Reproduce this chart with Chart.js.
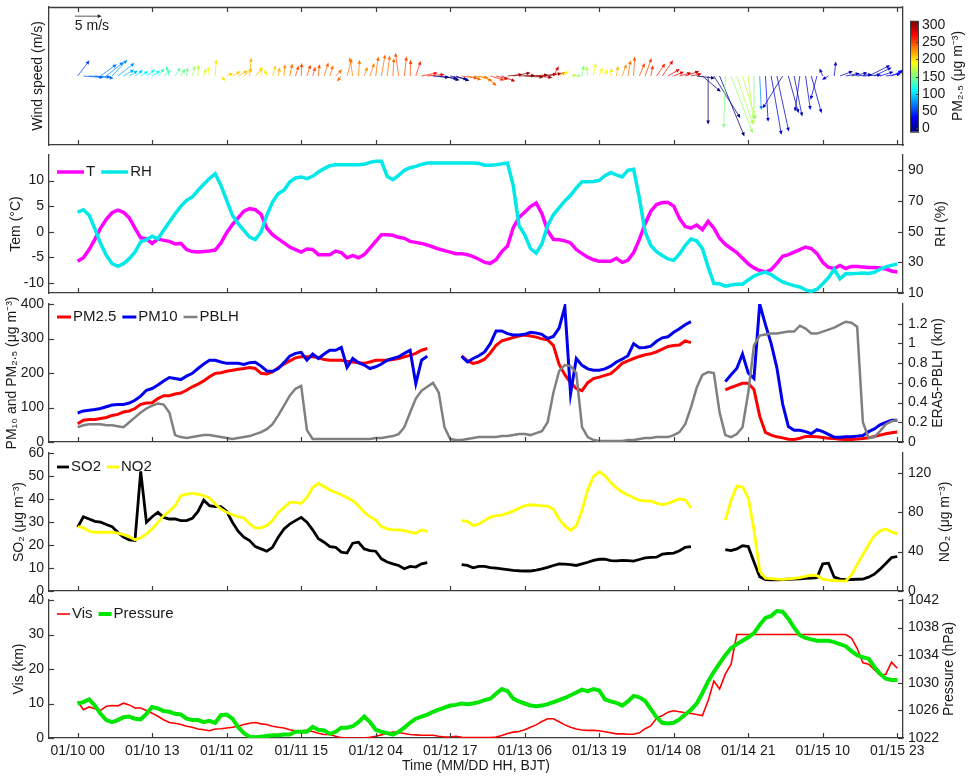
<!DOCTYPE html>
<html>
<head>
<meta charset="utf-8">
<script src="https://cdn.jsdelivr.net/npm/chart.js@4.4.0/dist/chart.umd.min.js"></script>
<style>
  body { margin: 0; background: #fff; width: 969px; height: 777px; overflow: hidden; position: relative; }
  canvas { position: absolute; left: 0; }
</style>
</head>
<body>
<canvas id="wind"></canvas>
<canvas id="met"></canvas>
<canvas id="pm"></canvas>
<canvas id="gas"></canvas>
<canvas id="vis"></canvas>
<script>
// hours since 01/10 00 BJT
const hours = [...Array(144).keys()];
const tickHours = [0, 13, 26, 39, 52, 65, 78, 91, 104, 117, 130, 143];
const tickLabels = ["01/10 00", "01/10 13", "01/11 02", "01/11 15", "01/12 04", "01/12 17",
  "01/13 06", "01/13 19", "01/14 08", "01/14 21", "01/15 10", "01/15 23"];

const temp = [-5.8,-5.1,-3.5,-1.5,0.7,2.4,3.7,4.2,3.8,2.7,0.7,-1.2,
  -1.4,-2.3,-1.4,-1.7,-1.9,-2.4,-2.3,-3.5,-3.9,-4.0,-3.9,-3.8,
  -3.6,-2.2,-0.2,1.4,2.7,4.0,4.5,4.3,3.4,0.7,-0.6,-1.4,
  -2.2,-3.0,-3.5,-4.0,-3.4,-3.5,-4.5,-4.5,-4.5,-3.8,-4.1,-5.1,
  -4.7,-5.1,-4.5,-3.2,-1.9,-0.6,-0.6,-0.7,-1.1,-1.3,-1.9,-2.1,
  -2.3,-2.6,-3.0,-3.4,-3.7,-4.0,-4.3,-4.3,-4.5,-4.9,-5.4,-6.0,
  -6.2,-5.5,-3.9,-2.8,0.8,2.8,3.8,4.9,5.6,3.5,0.2,-1.5,
  -1.6,-1.8,-2.2,-3.5,-4.3,-5.0,-5.5,-5.8,-5.8,-5.8,-5.2,-6.0,
  -5.6,-4.1,-1.5,1.5,4.0,5.3,5.7,5.7,5.0,2.6,1.0,0.7,
  1.3,0.4,2.0,0.7,-1.3,-2.5,-3.3,-4.1,-5.2,-6.3,-7.1,-7.6,
  -7.9,-7.4,-6.2,-4.8,-4.5,-4.0,-3.5,-3.0,-3.3,-4.3,-6.0,-7.0,
  -7.2,-6.6,-7.2,-6.8,-6.8,-6.9,-7.0,-7.0,-7.1,-7.3,-7.7,-7.9];

const rh = [62.8,64.3,60.7,52,42.2,34.6,29.1,27.4,29.1,32.4,36.7,43.3,
  44.8,47,45.4,50.9,56.3,61.7,66.5,70.4,72.6,77,80.9,84.6,
  87.8,80.2,70.4,60.7,55.2,50.9,46.5,44.8,49.8,60.7,69.3,74.8,
  77,82.4,85,85.7,84.6,86.1,88.9,91.1,93,93.7,93.7,93.7,
  93.7,93.7,93.9,95.2,95.9,95.9,86.1,83.9,86.7,90,91.7,92.6,
  93.9,94.8,94.8,94.8,94.8,94.8,94.8,94.8,94.8,94.8,94.5,93.3,
  93.3,93.6,94.2,94.8,80,54,48,39,36,42,54,61,
  65.5,70,73.7,78.5,82.6,82.6,82.7,83.5,86.5,88.5,87,85.7,
  90,90.7,72,50,41,37,34.5,32.2,31.3,35.5,41,45.2,
  44,39,27,16.1,16,14.5,15.2,15.7,15.7,18.5,21,22.6,
  23.6,22,19.5,17.2,16,14.8,13.9,12,11,12.5,16,20,
  25.5,19.3,22.5,22.5,22.8,23,22.8,23.5,25.5,27,28,29];

const pm25 = [53,63,65,65,68,71,77,80,87,90,97,109,
  113,114,126,134,134,139,142,150,160,168,177,189,
  199,201,205,208,211,213,216,213,199,197,203,215,
  226,235,244,247,247,247,245,239,237,237,237,234,
  232,230,228,232,237,237,237,239,242,247,251,257,
  266,271,null,null,null,null,null,250,235,228,232,240,
  258,280,293,298,303,307,310,307,304,299,296,280,
  225,195,172,155,149,172,184,188,193,198,212,228,
  235,242,248,253,256,261,269,277,280,281,293,288,
  null,null,null,null,null,151,158,164,170,170,152,75,
  28,20,15,12,8,7,11,16,16,15,13,11,
  10,8,7,7,9,10,12,16,20,24,27,29];

const pm10 = [84,90,92,94,97,102,107,109,109,113,121,133,
  150,155,165,177,187,184,181,191,199,213,226,237,
  237,232,228,228,228,225,230,231,220,206,205,213,
  230,249,257,260,237,255,242,255,266,266,274,216,
  242,230,223,213,218,226,237,242,247,257,266,169,
  237,249,null,null,null,null,null,248,232,242,250,261,
  285,322,322,314,310,310,312,318,316,312,300,306,
  330,392,140,242,222,212,208,208,212,220,232,240,
  250,285,273,274,278,292,302,305,318,328,340,349,
  null,null,null,null,null,175,195,213,255,200,184,400,
  340,285,215,110,45,34,34,30,24,36,30,22,
  14,14,15,15,17,19,30,38,50,57,63,63];

const pblh = [0.15,0.17,0.18,0.18,0.18,0.17,0.17,0.16,0.15,0.2,0.25,0.3,
  0.34,0.37,0.39,0.38,0.3,0.07,0.05,0.04,0.05,0.06,0.07,0.07,
  0.06,0.05,0.04,0.03,0.04,0.05,0.06,0.08,0.1,0.13,0.18,0.27,
  0.37,0.47,0.54,0.57,0.12,0.03,0.03,0.03,0.03,0.03,0.03,0.03,
  0.03,0.03,0.03,0.03,0.04,0.04,0.05,0.06,0.08,0.15,0.3,0.44,
  0.52,0.56,0.6,0.5,0.15,0.03,0.02,0.02,0.03,0.04,0.05,0.05,
  0.05,0.05,0.06,0.06,0.07,0.08,0.08,0.07,0.09,0.11,0.2,0.5,
  0.72,0.78,0.77,0.7,0.15,0.05,0.02,0.01,0.01,0.01,0.01,0.01,
  0.02,0.02,0.03,0.04,0.04,0.05,0.05,0.05,0.07,0.1,0.18,0.35,
  0.55,0.68,0.71,0.7,0.3,0.07,0.05,0.08,0.15,0.5,0.98,1.08,
  1.09,1.1,1.1,1.11,1.12,1.12,1.18,1.15,1.1,1.1,1.12,1.14,
  1.16,1.19,1.22,1.21,1.17,0.2,0.04,0.05,0.11,0.18,0.21,0.22];

const so2 = [27.7,32.3,31.3,30.3,29.9,28.9,28,25.5,23.4,22.2,22,52,
  29.9,32.3,34.2,32,31.3,31.3,30.6,30.6,31.6,34.6,39.5,37.1,
  36.7,36.7,34.6,29.9,26,23.4,21.9,19.3,18.3,17.3,19,23.4,
  27,29.1,30.6,32,29.9,26.6,22.7,21.2,19.3,19,16.9,16.5,
  20.8,21.2,18.3,17.6,17.3,14,12.6,11.8,11.1,9.7,10.7,10.4,
  11.8,12.3,null,null,null,null,null,11.5,11.1,10.1,10.7,10.7,
  10.2,9.9,9.6,9.3,9,8.8,8.7,8.7,9.1,9.6,10.3,11.1,
  11.8,11.7,11.5,11.1,11.8,12.5,13.3,13.8,13.8,13.2,13.1,13.3,
  13.2,13,13.7,14.4,14.6,14.7,16,16.3,16.5,17.5,19,19.3,
  null,null,null,null,null,18,17.6,18.3,19.7,19.3,12.6,6.2,
  5,4.9,4.9,5,5.1,5.2,5.3,5.5,5.6,5.8,11.8,12.1,
  6,5.2,4.9,5,5.1,5.2,6,7.3,9.5,12,14.5,15];

const no2 = [65.3,64,60.6,59.6,59.6,59.6,59.6,58.6,57.2,55.2,51.9,53.9,
  57.9,63,69.7,76.4,80.8,86.5,96.6,98.3,99,98.3,96.6,94.3,
  88.2,83.2,79.8,77.4,75.4,74.1,68,64,64,66.3,71.4,79.8,
  84.8,89.9,89.9,88.9,94.9,105,109.1,105.7,102.4,100,97.6,94.9,
  91.6,86.5,79.8,75.4,72,65.3,63,62,62,61.3,59.6,58.6,
  62,60.6,null,null,null,null,null,71.4,70.7,66.3,68,71.4,
  75,76.5,77,79,81,84,86.5,87.5,87,86.3,86.1,83,
  73,66,61.5,66,82,103,116,121,117,110,104.7,100.5,
  97.5,94.5,92,91.5,91.1,89,87.4,88.8,91.2,93.5,92.5,84.5,
  null,null,null,null,null,72,92,106.4,105.5,94.6,62,20,
  13,12.5,12,11.8,12.2,12.8,13.5,14.8,16,15.5,12,11,
  10.6,10.3,10.1,16,27,37,47,56,61,63,60,58];

const vis = [10.6,8.2,9,8.5,8,9.2,9.4,9.3,10.1,9.6,8.7,8.7,
  8,7.2,6.3,5.3,4.5,4.3,3.9,3.4,3.1,2.6,2.4,2.1,
  2.6,2.7,2.9,3.1,3.4,3.9,4.3,4.5,4.1,3.9,3.4,3.1,
  2.9,2.4,2.1,2.1,2.2,1.9,1.4,1,1,0.5,0.1,0,
  0,0,0,0.2,0.5,0.9,1.4,1.7,1.6,1.3,1,0.9,
  0.8,0.8,0.8,0.5,0.3,0.3,0.5,0.2,0.1,0.1,0.1,0.1,
  0.1,0.3,0.7,1.3,1.7,1.9,2.4,3.1,3.8,4.8,5.6,5.6,
  4.7,3.8,3.1,2.6,2.3,2.2,2.2,2.1,1.8,1.5,1.2,1.2,
  1.1,1.1,1.5,2.7,3.5,5.7,6.5,7.5,7.9,7.6,7.3,7.1,
  6.8,6.5,10.8,16.5,14.2,18.5,21.4,30,30,30,30,30,
  30,30,30,30,30,30,30,30,30,30,30,30,
  30,30,30,29,26,21.8,21.4,19.8,18.3,18.5,22,20.2];

const pressure = [1027,1027.2,1027.6,1026.7,1025.5,1024.6,1024.3,1024.6,1025,1025.1,1024.8,1024.7,
  1025.5,1026.5,1026.3,1025.9,1025.8,1025.5,1025.4,1024.8,1024.6,1024.6,1024.3,1024.5,
  1024.2,1025.3,1025.4,1024.8,1023.6,1022.7,1022.2,1022.1,1022.2,1022.3,1022.4,1022.4,
  1022.5,1022.5,1022.9,1022.9,1022.9,1023.6,1023.2,1023.1,1022.6,1022.9,1023.5,1023.5,
  1023.7,1024.3,1025.1,1024.3,1023.2,1022.9,1022.7,1022.5,1022.9,1023.5,1024.2,1024.8,
  1025.1,1025.4,1025.8,1026.1,1026.4,1026.7,1026.8,1027,1026.9,1027,1027.2,1027.5,
  1027.7,1028.4,1029.1,1028.8,1027.7,1027.3,1027,1026.7,1026.6,1026.7,1026.9,1027.2,
  1027.5,1027.8,1028.2,1028.6,1029,1028.8,1029.1,1028.9,1027.6,1027.3,1027.1,1026.7,
  1027.3,1028.1,1027.9,1027.4,1026.2,1025,1024.2,1024.1,1024.2,1024.7,1025.4,1026.1,
  1027,1028.5,1030.2,1031.6,1032.8,1034,1035,1035.6,1036.1,1036.6,1037.2,1038.4,
  1039.4,1039.7,1040.4,1040.3,1039.3,1038,1036.9,1036.5,1036.3,1036.1,1036.1,1036.1,
  1035.9,1035.6,1035.3,1034.6,1034,1033.7,1033.5,1032.3,1031.3,1030.6,1030.4,1030.4];

// wind components (m/s), one arrow per hour
const windU = [2.2,3.7,4.0,3.5,3.0,3.2,2.8,3.1,2.0,1.6,1.5,1.4,
  1.6,1.5,1.2,1.4,-0.6,1.0,0.8,0.2,0.5,0.1,0.4,-0.3,
  0.2,0.8,1.2,1.5,1.8,1.6,0.3,1.4,0.0,-0.4,0.6,0.3,
  0.2,0.5,0.6,0.1,0.7,0.5,0.2,0.8,0.6,1.2,-0.8,0.9,
  -0.6,0.2,0.6,0.8,0.5,0.7,0.5,0.2,-0.6,0.4,0.1,0.9,
  3.0,3.2,3.0,3.5,2.8,3.2,2.5,3.0,2.6,2.8,2.5,2.2,
  2.6,2.3,2.5,2.8,3.2,3.0,3.5,3.3,3.0,2.8,2.6,1.0,
  1.2,0.4,1.2,0.8,0.3,-0.2,0.4,0.6,0.4,0.2,0.3,0.8,
  0.5,0.2,1.0,1.2,0.4,1.6,2.0,2.2,1.9,2.2,2.6,2.0,
  3.4,3.4,0.0,4.9,4.6,-0.3,4.0,3.0,2.5,1.0,0.0,0.3,
  0.5,1.9,2.2,-3.7,1.9,1.5,-0.9,0.9,1.9,-1.2,-0.6,-1.2,
  0.3,2.4,2.6,3.0,2.8,3.4,4.0,3.2,2.5,2.8,2.0,1.0];
const windV = [2.9,-0.3,-0.2,-0.4,2.2,2.6,3.0,2.4,1.2,1.0,1.1,0.9,
  1.2,1.0,1.4,1.1,1.8,1.6,1.3,1.6,1.9,2.1,1.4,1.8,
  3.1,-0.9,0.6,0.9,1.0,1.4,3.4,1.5,1.8,1.2,2.0,1.6,
  2.2,2.3,1.9,2.4,2.1,1.7,2.2,2.5,2.0,1.2,-1.0,3.2,
  3.5,3.0,1.7,2.4,3.6,4.0,3.8,3.3,4.3,3.6,3.0,2.8,
  0.6,0.3,-0.3,-0.5,-0.8,-0.6,-0.9,-0.4,-0.7,-0.3,-0.9,-1.8,
  -0.8,-0.6,-1.0,0.3,0.6,0.1,-0.2,0.2,-0.3,0.4,0.5,1.8,
  0.8,1.0,0.2,0.1,2.0,1.8,2.4,1.6,1.2,1.5,1.9,2.2,
  2.9,3.6,2.4,3.3,2.0,2.3,2.9,1.3,0.8,0.6,0.9,0.4,
  -0.4,-2.9,-9.0,-7.8,-11.2,-9.7,-10.6,-9.0,-8.1,-9.0,-8.1,-6.3,
  -8.5,-10.9,-10.3,-6.0,-6.9,-7.5,-6.6,-6.3,-6.9,-4.4,1.4,-0.7,
  2.7,0.9,0.5,0.6,0.3,0.2,2.0,1.6,0.8,0.4,1.0,1.2];

const tempTicks = [-10, -5, 0, 5, 10];
const rhTicks = [10, 30, 50, 70, 90];
const pmTicks = [0, 100, 200, 300, 400];
const pblhTicks = [0, 0.2, 0.4, 0.6, 0.8, 1, 1.2];
const so2Ticks = [0, 10, 20, 30, 40, 50, 60];
const no2Ticks = [0, 40, 80, 120];
const visTicks = [0, 10, 20, 30, 40];
const presTicks = [1022, 1026, 1030, 1034, 1038, 1042];
const cbTicks = [0, 50, 100, 150, 200, 250, 300];
const cbRange = [-10, 312];

const FONT = '"Liberation Sans", Arial, Helvetica, sans-serif';
const INK = '#3c3c3c';
const TXT = '#1a1a1a';
Chart.defaults.font.family = FONT;
Chart.defaults.font.size = 14;
Chart.defaults.color = TXT;

function jet(t) {
  t = Math.min(1, Math.max(0, t));
  const c = k => Math.round(255 * Math.min(1, Math.max(0, 1.5 - Math.abs(4 * t - k))));
  return `rgb(${c(3)},${c(2)},${c(1)})`;
}
const pmColour = v => jet(((v == null ? cbRange[0] : v) - cbRange[0]) / (cbRange[1] - cbRange[0]));

function arrow(ctx, x0, y0, x1, y1, col) {
  const dx = x1 - x0, dy = y1 - y0, L = Math.hypot(dx, dy);
  if (L < 0.5) return;
  const ux = dx / L, uy = dy / L, hl = Math.min(4, L * 0.6), hw = 1.8;
  ctx.strokeStyle = col; ctx.fillStyle = col; ctx.lineWidth = 1;
  ctx.globalAlpha = 0.75;
  ctx.beginPath(); ctx.moveTo(x0, y0); ctx.lineTo(x1 - ux * hl * 0.5, y1 - uy * hl * 0.5); ctx.stroke();
  ctx.globalAlpha = 1;
  ctx.beginPath();
  ctx.moveTo(x1, y1);
  ctx.lineTo(x1 - ux * hl - uy * hw, y1 - uy * hl + ux * hw);
  ctx.lineTo(x1 - ux * hl + uy * hw, y1 - uy * hl - ux * hw);
  ctx.closePath(); ctx.fill();
}

// inward tick marks and optional full box
const frame = {
  id: 'frame',
  afterDraw(chart, args, o) {
    const { ctx, chartArea: a, scales } = chart;
    const tl = 5;
    ctx.save();
    ctx.strokeStyle = INK; ctx.lineWidth = 1.2;
    const seg = (x0, y0, x1, y1) => { ctx.beginPath(); ctx.moveTo(x0, y0); ctx.lineTo(x1, y1); ctx.stroke(); };
    scales.x.ticks.forEach(t => {
      const px = Math.round(scales.x.getPixelForValue(t.value)) + 0.5;
      seg(px, a.bottom, px, a.bottom - tl);
      if (o.box) seg(px, a.top, px, a.top + tl);
    });
    ['y', 'y2'].forEach(id => {
      const s = scales[id];
      if (!s || !s.options.ticks.display) return;
      s.ticks.forEach(t => {
        const py = Math.round(s.getPixelForValue(t.value)) + 0.5;
        if (s.position === 'left') seg(a.left, py, a.left + tl, py);
        else seg(a.right, py, a.right - tl, py);
      });
    });
    if (o.box) { ctx.lineWidth = 1.3; seg(a.left, a.top + 0.5, a.right, a.top + 0.5); }
    ctx.restore();
  }
};

// legend inside the plot, top-left
const inLegend = {
  id: 'inLegend',
  afterDraw(chart, args, o) {
    if (!o.len) return;
    const { ctx, chartArea: a } = chart;
    let x = a.left + 8;
    const y = a.top + o.dy;
    ctx.save();
    ctx.font = '15px ' + FONT; ctx.textBaseline = 'middle'; ctx.fillStyle = TXT;
    chart.data.datasets.forEach(ds => {
      ctx.strokeStyle = ds.borderColor; ctx.lineWidth = ds.borderWidth;
      ctx.beginPath(); ctx.moveTo(x, y); ctx.lineTo(x + o.len, y); ctx.stroke();
      x += o.len + 2;
      ctx.fillText(ds.label, x, y);
      x += ctx.measureText(ds.label).width + 6;
    });
    ctx.restore();
  }
};

// rotated axis titles
const titles = {
  id: 'titles',
  afterDraw(chart, args, o) {
    const { ctx, chartArea: a } = chart;
    const cy = (a.top + a.bottom) / 2;
    ctx.save();
    ctx.font = '14px ' + FONT; ctx.fillStyle = TXT; ctx.textAlign = 'center'; ctx.textBaseline = 'middle';
    const vert = (txt, x) => { ctx.save(); ctx.translate(x, cy); ctx.rotate(-Math.PI / 2); ctx.fillText(txt, 0, 0); ctx.restore(); };
    if (o.left) vert(o.left, o.lx);
    if (o.right) vert(o.right, o.rx);
    if (o.bottom) ctx.fillText(o.bottom, (a.left + a.right) / 2, o.by);
    ctx.restore();
  }
};

// wind arrows, scale arrow and PM2.5 colourbar
const quiver = {
  id: 'quiver',
  afterDatasetsDraw(chart) {
    const { ctx, scales: { x, y } } = chart;
    // hours per m/s so that arrows keep equal x/y pixel scale
    const k = Math.abs(y.getPixelForValue(1) - y.getPixelForValue(0)) /
              (x.getPixelForValue(1) - x.getPixelForValue(0));
    ctx.save();
    hours.forEach((h, i) => {
      arrow(ctx, x.getPixelForValue(h), y.getPixelForValue(0),
        x.getPixelForValue(h + windU[i] * k), y.getPixelForValue(windV[i]), pmColour(pm25[i]));
    });
    arrow(ctx, x.getPixelForValue(-0.5), y.getPixelForValue(11.1),
      x.getPixelForValue(-0.5 + 5 * k), y.getPixelForValue(11.1), '#222');
    ctx.font = '14px ' + FONT; ctx.fillStyle = TXT; ctx.textBaseline = 'middle';
    ctx.fillText('5 m/s', x.getPixelForValue(-0.5), y.getPixelForValue(9.3));
    ctx.restore();
  },
  afterDraw(chart) {
    const { ctx, scales: { cb } } = chart;
    const top = cb.getPixelForValue(cbRange[1]), bot = cb.getPixelForValue(cbRange[0]);
    const x0 = cb.left, w = 8;
    const g = ctx.createLinearGradient(0, bot, 0, top);
    for (let i = 0; i <= 32; i++) g.addColorStop(i / 32, jet(i / 32));
    ctx.save();
    ctx.fillStyle = g; ctx.fillRect(x0, top, w, bot - top);
    ctx.strokeStyle = INK; ctx.lineWidth = 1;
    ctx.strokeRect(x0 + 0.5, top + 0.5, w, bot - top);
    cbTicks.forEach(v => {
      const py = Math.round(cb.getPixelForValue(v)) + 0.5;
      ctx.beginPath(); ctx.moveTo(x0 + w, py); ctx.lineTo(x0 + w - 2, py); ctx.stroke();
    });
    ctx.restore();
  }
};

const pts = arr => arr.map((v, i) => ({ x: hours[i], y: v }));

function xScale(showLabels, h) {
  return {
    type: 'linear', min: -5, max: 144,
    afterBuildTicks: s => { s.ticks = tickHours.map(v => ({ value: v })); },
    afterFit: s => { s.height = h; },
    grid: { display: false, drawTicks: false },
    border: { display: true, color: INK, width: 1.3 },
    ticks: { display: showLabels, autoSkip: false, maxRotation: 0, padding: 5,
      callback: v => tickLabels[tickHours.indexOf(v)] }
  };
}

function yScale(pos, min, max, ticks, w, fmt) {
  return {
    type: 'linear', position: pos, min, max,
    afterBuildTicks: s => { if (ticks) s.ticks = ticks.map(v => ({ value: v })); },
    afterFit: s => { s.width = w; },
    grid: { display: false, drawTicks: false },
    border: { display: true, color: INK, width: 1.3 },
    ticks: { display: !!ticks, autoSkip: false, padding: 5, callback: fmt || (v => v) }
  };
}

function line(label, data, color, width, axis, order) {
  return { label, data: pts(data), borderColor: color, backgroundColor: color, borderWidth: width,
    pointRadius: 0, yAxisID: axis, order, spanGaps: false, tension: 0 };
}

// pad = space kept above and below the plot area for tick labels
function makeChart(id, top, height, pad, datasets, scales, opts, extra) {
  const cv = document.getElementById(id);
  cv.width = 969; cv.height = height;
  cv.style.top = top + 'px';
  return new Chart(cv, {
    type: 'line',
    data: { datasets },
    options: {
      responsive: false, animation: false, events: [],
      layout: { padding: { top: pad, bottom: 0, left: 0, right: 0 } },
      scales,
      plugins: { legend: { display: false }, tooltip: { enabled: false },
        frame: opts.frame || {}, inLegend: opts.legend || {}, titles: opts.titles || {} }
    },
    plugins: [frame, inLegend, titles].concat(extra || [])
  });
}

// panel 1: wind arrows (plot area 7..145)
makeChart('wind', 7 - 22, 22 + 138 + 22, 22, [], {
  x: xScale(false, 22),
  y: yScale('left', -12.8, 12.8, null, 49),
  y2: Object.assign(yScale('right', -12.8, 12.8, null, 7), { weight: 0 }),
  cb: { type: 'linear', position: 'right', weight: 1, min: -48.5, max: 352.3,
    afterBuildTicks: s => { s.ticks = cbTicks.map(v => ({ value: v })); },
    afterFit: s => { s.width = 59; },
    grid: { display: false, drawTicks: false }, border: { display: false },
    ticks: { autoSkip: false, padding: 12 } }
}, { frame: { box: true }, titles: { left: 'Wind speed (m/s)', lx: 38, right: 'PM\u2082.\u2085 (\u03bcg m\u207b\u00b3)', rx: 958 } }, [quiver]);

// panel 2: T and RH (plot area 155..293)
makeChart('met', 155 - 15, 15 + 138 + 15, 15, [
  line('T', temp, '#ff00ff', 3.5, 'y', 1),
  line('RH', rh, '#00e8e8', 3.5, 'y2', 0)
], {
  x: xScale(false, 15),
  y: yScale('left', -12, 15, tempTicks, 49),
  y2: yScale('right', 10, 100, rhTicks, 66)
}, { legend: { len: 27, dy: 17 }, titles: { left: 'Tem (\u00b0C)', lx: 16, right: 'RH (%)', rx: 941 } });

// panel 3: PM and PBLH (plot area 304..442)
makeChart('pm', 304 - 15, 15 + 138 + 15, 15, [
  line('PM2.5', pm25, '#ff0000', 3, 'y', 2),
  line('PM10', pm10, '#0000ee', 3, 'y', 1),
  line('PBLH', pblh, '#808080', 2.5, 'y2', 0)
], {
  x: xScale(false, 15),
  y: yScale('left', 0, 400, pmTicks, 49),
  y2: yScale('right', 0, 1.4, pblhTicks, 66, v => String(+v.toFixed(1)))
}, { legend: { len: 14, dy: 13 }, titles: { left: 'PM\u2081\u2080 and PM\u2082.\u2085 (\u03bcg m\u207b\u00b3)', lx: 12, right: 'ERA5-PBLH (km)', rx: 938 } });

// panel 4: SO2 and NO2 (plot area 453..591)
makeChart('gas', 453 - 15, 15 + 138 + 15, 15, [
  line('SO2', so2, '#000000', 2.8, 'y', 1),
  line('NO2', no2, '#ffff00', 2.8, 'y2', 0)
], {
  x: xScale(false, 15),
  y: yScale('left', 0, 60, so2Ticks, 49),
  y2: yScale('right', 0, 140, no2Ticks, 66)
}, { legend: { len: 12, dy: 14 }, titles: { left: 'SO\u2082 (\u03bcg m\u207b\u00b3)', lx: 19, right: 'NO\u2082 (\u03bcg m\u207b\u00b3)', rx: 945 } });

// panel 5: visibility and pressure (plot area 600..738)
makeChart('vis', 600 - 15, 15 + 138 + 39, 15, [
  line('Vis', vis, '#ff0000', 1.6, 'y', 1),
  line('Pressure', pressure, '#00e600', 4, 'y2', 0)
], {
  x: xScale(true, 39),
  y: yScale('left', 0, 40, visTicks, 49),
  y2: yScale('right', 1022, 1042, presTicks, 66)
}, { legend: { len: 13, dy: 14 }, titles: { left: 'Vis (km)', lx: 19, right: 'Pressure (hPa)', rx: 949, bottom: 'Time (MM/DD HH, BJT)', by: 181 } });
</script>
</body>
</html>
